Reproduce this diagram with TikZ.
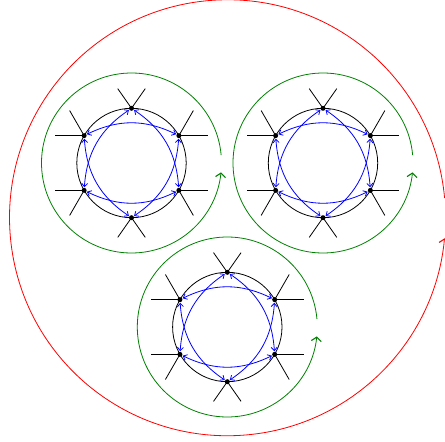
\documentclass[tikz,border=0pt]{standalone}
\usetikzlibrary{arrows.meta,calc}
\definecolor{mygreen}{RGB}{0,128,0}
\tikzset{
  x=1pt,y=-1pt,
  vert/.style={circle,fill=black,inner sep=0pt,minimum size=5pt,outer sep=0.6pt},
  leg/.style={black,line width=0.8pt},
  ring/.style={black,line width=0.8pt},
  bluearc/.style={blue,line width=0.8pt,{Straight Barb[length=3.4pt,width=6pt]}-{Straight Barb[length=3.4pt,width=6pt]},bend right=26},
  greenarc/.style={mygreen,line width=0.8pt,-{Straight Barb[length=4pt,width=10pt,line width=1.1pt]}},
  redarc/.style={red,line width=0.8pt,-{Straight Barb[length=4pt,width=10pt,line width=1.1pt]}},
  pics/cluster/.style={code={
    \draw[ring] (0,0) circle[radius=54.7];
    \foreach \i/\a in {1/30,2/90,3/150,4/210,5/270,6/330}{
      \node[vert] (v\i) at ({54.7*cos(\a)},{-54.7*sin(\a)}) {};
    }
    \foreach \i/\a/\b/\L in {1/0/60/29,2/55/125/24,3/120/180/29,4/180/240/29,5/235/305/24,6/300/360/29}{
      \coordinate (a\i) at ($(v\i.center)+({\L*cos(\a)},{-\L*sin(\a)})$);
      \coordinate (b\i) at ($(v\i.center)+({\L*cos(\b)},{-\L*sin(\b)})$);
      \draw[leg] (v\i.center) -- (a\i);
      \draw[leg] (v\i.center) -- (b\i);
    }
    \foreach \i/\j in {1/3,2/4,3/5,4/6,5/1,6/2}{
      \draw[bluearc] (v\i) to (v\j);
    }
    \draw[greenarc] (-5:90) arc[start angle=-5,end angle=-354,radius=90];
  }}
}
\begin{document}
\begin{tikzpicture}
\useasboundingbox (0,0) rectangle (445,442);
\clip (0,0) rectangle (445,442);
\coordinate (rs) at (444.6,198);
\draw[redarc] (rs) arc[start angle=-5.2,end angle=-354.6,radius=218];
\pic at (131.5,163) {cluster};
\pic at (323,163) {cluster};
\pic at (227.3,327) {cluster};
\end{tikzpicture}
\end{document}
